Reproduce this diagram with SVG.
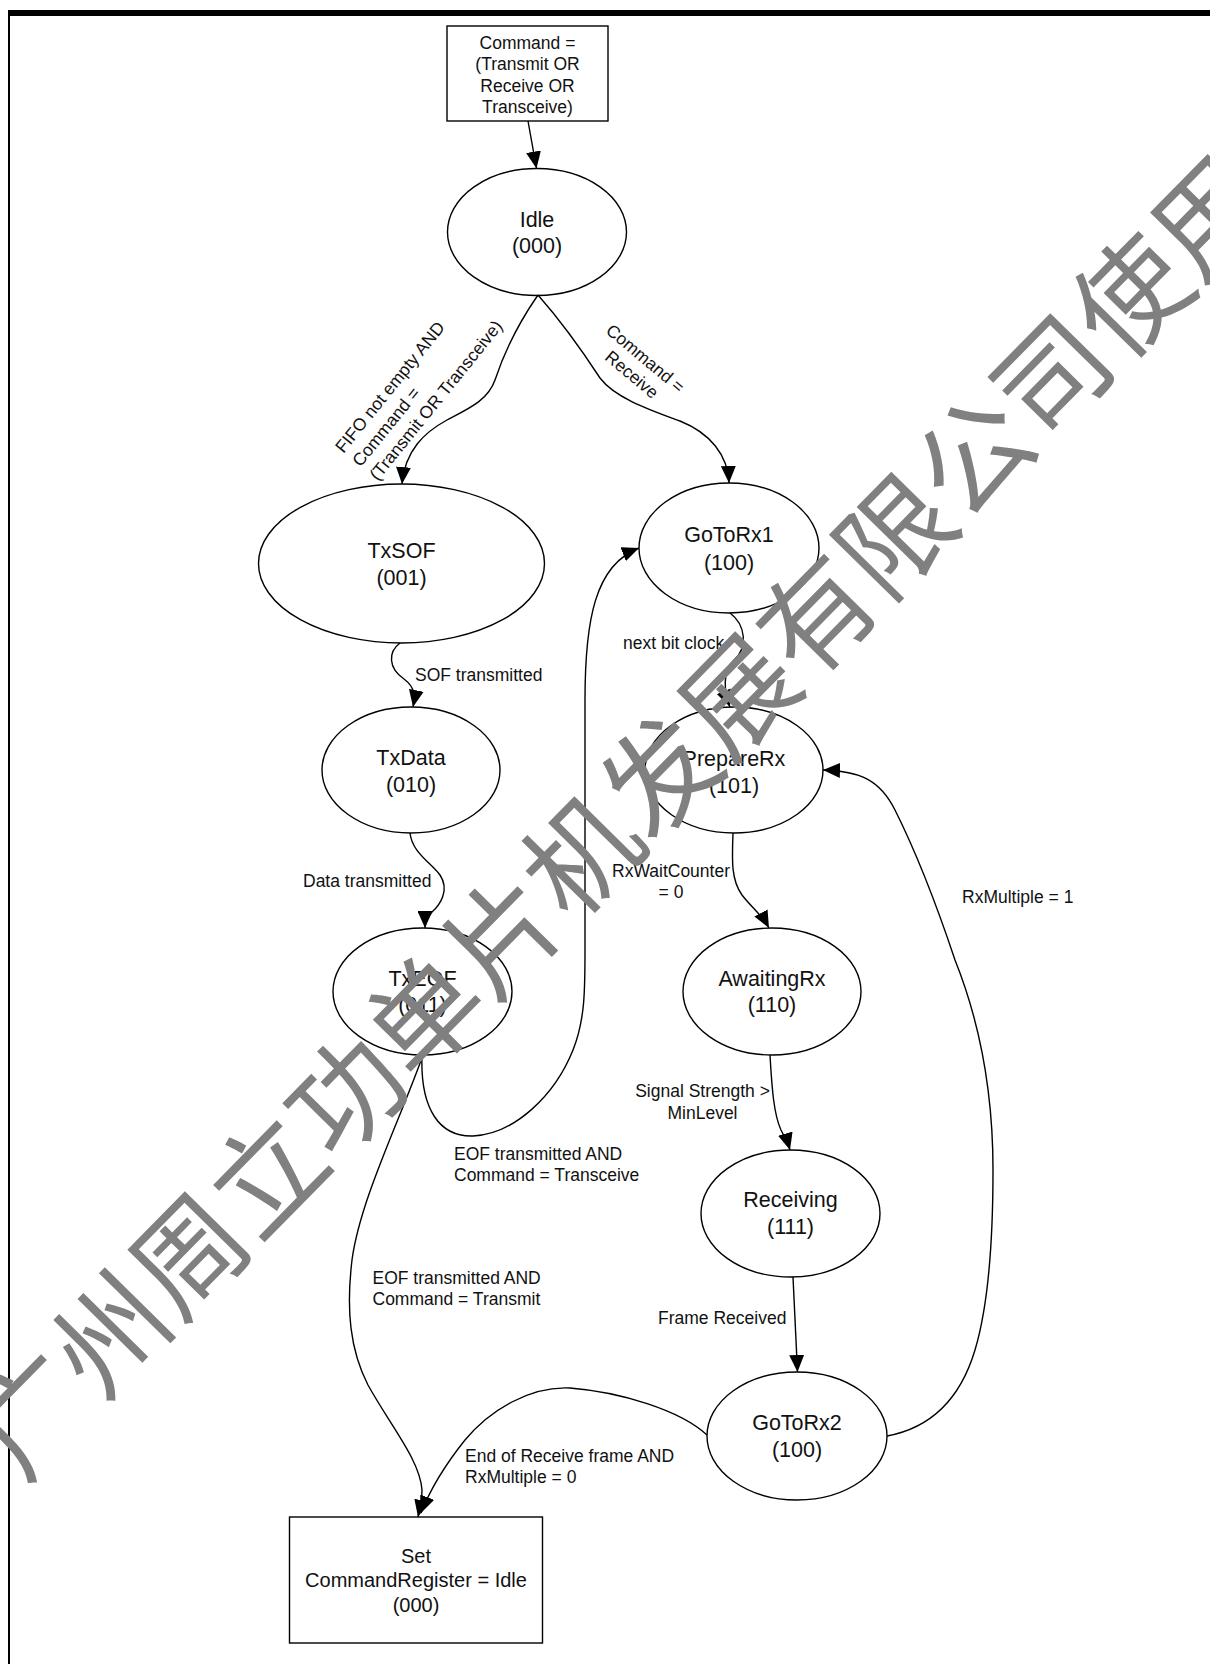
<svg xmlns="http://www.w3.org/2000/svg" width="1210" height="1664" viewBox="0 0 1210 1664">
<defs>
<marker id="arr" markerUnits="userSpaceOnUse" markerWidth="17" markerHeight="15" refX="17" refY="7.5" orient="auto">
<path d="M0,0 L17,7.5 L0,15 Z" fill="#000"/>
</marker>
<style>
.node ellipse, .node rect { fill:#fff; stroke:#000; stroke-width:1.4; }
.nl { font-family:"Liberation Sans", Arial, sans-serif; font-size:21.5px; fill:#111; text-anchor:middle; }
.bl { font-family:"Liberation Sans", Arial, sans-serif; font-size:17.5px; fill:#111; text-anchor:middle; }
.el { font-family:"Liberation Sans", Arial, sans-serif; font-size:17.5px; fill:#111; }
.edges path { fill:none; stroke:#000; stroke-width:1.4; marker-end:url(#arr); }
.wm { font-family:"Noto Sans CJK SC", sans-serif; font-size:112px; fill:#808080; }
</style>
</defs>
<rect width="1210" height="1664" fill="#fff"/>
<rect x="8" y="10" width="1202" height="6" fill="#000"/>
<rect x="8" y="10" width="2" height="1654" fill="#000"/>

<g id="nodes">
<g id="cmd" class="node">
<rect x="447" y="26" width="161" height="95"/>
<text class="bl" x="527.5" y="49">Command =</text>
<text class="bl" x="527.5" y="70.3">(Transmit OR</text>
<text class="bl" x="527.5" y="91.6">Receive OR</text>
<text class="bl" x="527.5" y="113">Transceive)</text>
</g>
<g id="idle" class="node">
<ellipse cx="537" cy="232" rx="89.5" ry="63.5"/>
<text class="nl" x="537" y="226.7">Idle</text>
<text class="nl" x="537" y="252.7">(000)</text>
</g>
<g id="txsof" class="node">
<ellipse cx="401.5" cy="563.5" rx="143" ry="79.5"/>
<text class="nl" x="401.5" y="557.5">TxSOF</text>
<text class="nl" x="401.5" y="584.5">(001)</text>
</g>
<g id="gotorx1" class="node">
<ellipse cx="729" cy="548" rx="90" ry="65"/>
<text class="nl" x="729" y="541.7">GoToRx1</text>
<text class="nl" x="729" y="569.7">(100)</text>
</g>
<g id="txdata" class="node">
<ellipse cx="411" cy="770" rx="89" ry="63"/>
<text class="nl" x="411" y="764.7">TxData</text>
<text class="nl" x="411" y="791.7">(010)</text>
</g>
<g id="preparerx" class="node">
<ellipse cx="734" cy="770" rx="89" ry="63"/>
<text class="nl" x="734" y="765.7">PrepareRx</text>
<text class="nl" x="734" y="792.7">(101)</text>
</g>
<g id="txeof" class="node">
<ellipse cx="422.5" cy="991.5" rx="89.5" ry="63.5"/>
<text class="nl" x="422.5" y="985.5">TxEOF</text>
<text class="nl" x="422.5" y="1012">(011)</text>
</g>
<g id="awaitingrx" class="node">
<ellipse cx="772" cy="991.5" rx="89" ry="63.5"/>
<text class="nl" x="772" y="985.7">AwaitingRx</text>
<text class="nl" x="772" y="1011.7">(110)</text>
</g>
<g id="receiving" class="node">
<ellipse cx="790.5" cy="1213.5" rx="89.5" ry="63.5"/>
<text class="nl" x="790.5" y="1206.7">Receiving</text>
<text class="nl" x="790.5" y="1233.7">(111)</text>
</g>
<g id="gotorx2" class="node">
<ellipse cx="797" cy="1436" rx="90" ry="64"/>
<text class="nl" x="797" y="1430.2">GoToRx2</text>
<text class="nl" x="797" y="1456.7">(100)</text>
</g>
<g id="setcmd" class="node">
<rect x="289.5" y="1517" width="253" height="126"/>
<text class="nl" style="font-size:20px" x="416" y="1562.7">Set</text>
<text class="nl" style="font-size:20px" x="416" y="1587.2">CommandRegister = Idle</text>
<text class="nl" style="font-size:20px" x="416" y="1611.7">(000)</text>
</g>
</g>

<g id="connectors" class="edges">
<path d="M528,121 L536.5,168.5"/>
<path d="M538,295 C522,318 505,350 495,380 C488,400 470,408 447,420 C425,432 405,450 402,484"/>
<path d="M538,295 C560,320 585,355 600,378 C615,398 650,410 680,421 C710,433 728,455 729,483"/>
<path d="M400,643 C388,652 388,668 404,679 C416,688 415,697 413,707"/>
<path d="M410,833 C412,852 430,862 440,875 C450,890 440,905 432,912 C427,918 425,922 425,928"/>
<path d="M730,613 C746,625 748,648 734,660 C722,671 724,692 730,707"/>
<path d="M422,1055 C420,1110 440,1137 473,1136 C515,1134 555,1095 573,1050 C585,1020 585,990 585,950 L585,700 C585,620 595,565 639,548"/>
<path d="M733,833 C732,860 731,880 742,895 C752,908 762,915 769,928"/>
<path d="M770,1055 C772,1090 774,1115 781,1130 C785,1138 788,1143 790,1150"/>
<path d="M793,1277 L797.5,1372"/>
<path d="M887,1436 C930,1428 960,1400 975,1350 C990,1300 993,1230 993,1170 C993,1080 975,1010 955,960 C935,900 915,850 895,810 C880,780 860,771 823,770"/>
<path d="M423,1055 C400,1120 360,1200 352,1260 C346,1310 350,1350 368,1385 C390,1425 420,1460 422,1490 C422,1500 420,1508 418,1517"/>
<path d="M707,1435 C680,1410 620,1392 570,1388 C530,1386 490,1410 465,1440 C445,1465 430,1490 421,1513"/>
</g>

<g id="edge-labels">
<text class="el" transform="translate(343.5,454) rotate(-51)"><tspan x="0" y="0">FIFO not empty AND</tspan><tspan x="0" y="22">Command =</tspan><tspan x="0" y="44">(Transmit OR Transceive)</tspan></text>
<text class="el" text-anchor="middle" transform="translate(641.5,363) rotate(40)"><tspan x="0" y="0">Command =</tspan><tspan x="0" y="21">Receive</tspan></text>
<text class="el" x="415" y="681.4">SOF transmitted</text>
<text class="el" x="623" y="649">next bit clock</text>
<text class="el" x="303" y="887.4">Data transmitted</text>
<text class="el" text-anchor="middle"><tspan x="671" y="877">RxWaitCounter</tspan><tspan x="671" y="898">= 0</tspan></text>
<text class="el" x="962" y="903.4">RxMultiple = 1</text>
<text class="el"><tspan x="454" y="1160.4">EOF transmitted AND</tspan><tspan x="454" y="1181.4">Command = Transceive</tspan></text>
<text class="el" text-anchor="middle"><tspan x="702.5" y="1097">Signal Strength &gt;</tspan><tspan x="702.5" y="1119">MinLevel</tspan></text>
<text class="el" x="658" y="1324.4">Frame Received</text>
<text class="el"><tspan x="372.5" y="1284.4">EOF transmitted AND</tspan><tspan x="372.5" y="1305.4">Command = Transmit</tspan></text>
<text class="el"><tspan x="465" y="1462.4">End of Receive frame AND</tspan><tspan x="465" y="1483.4">RxMultiple = 0</tspan></text>
</g>

<text class="wm" text-anchor="middle" dominant-baseline="central" transform="translate(615,810) rotate(-45.5)">广州周立功单片机发展有限公司使用</text>
</svg>
